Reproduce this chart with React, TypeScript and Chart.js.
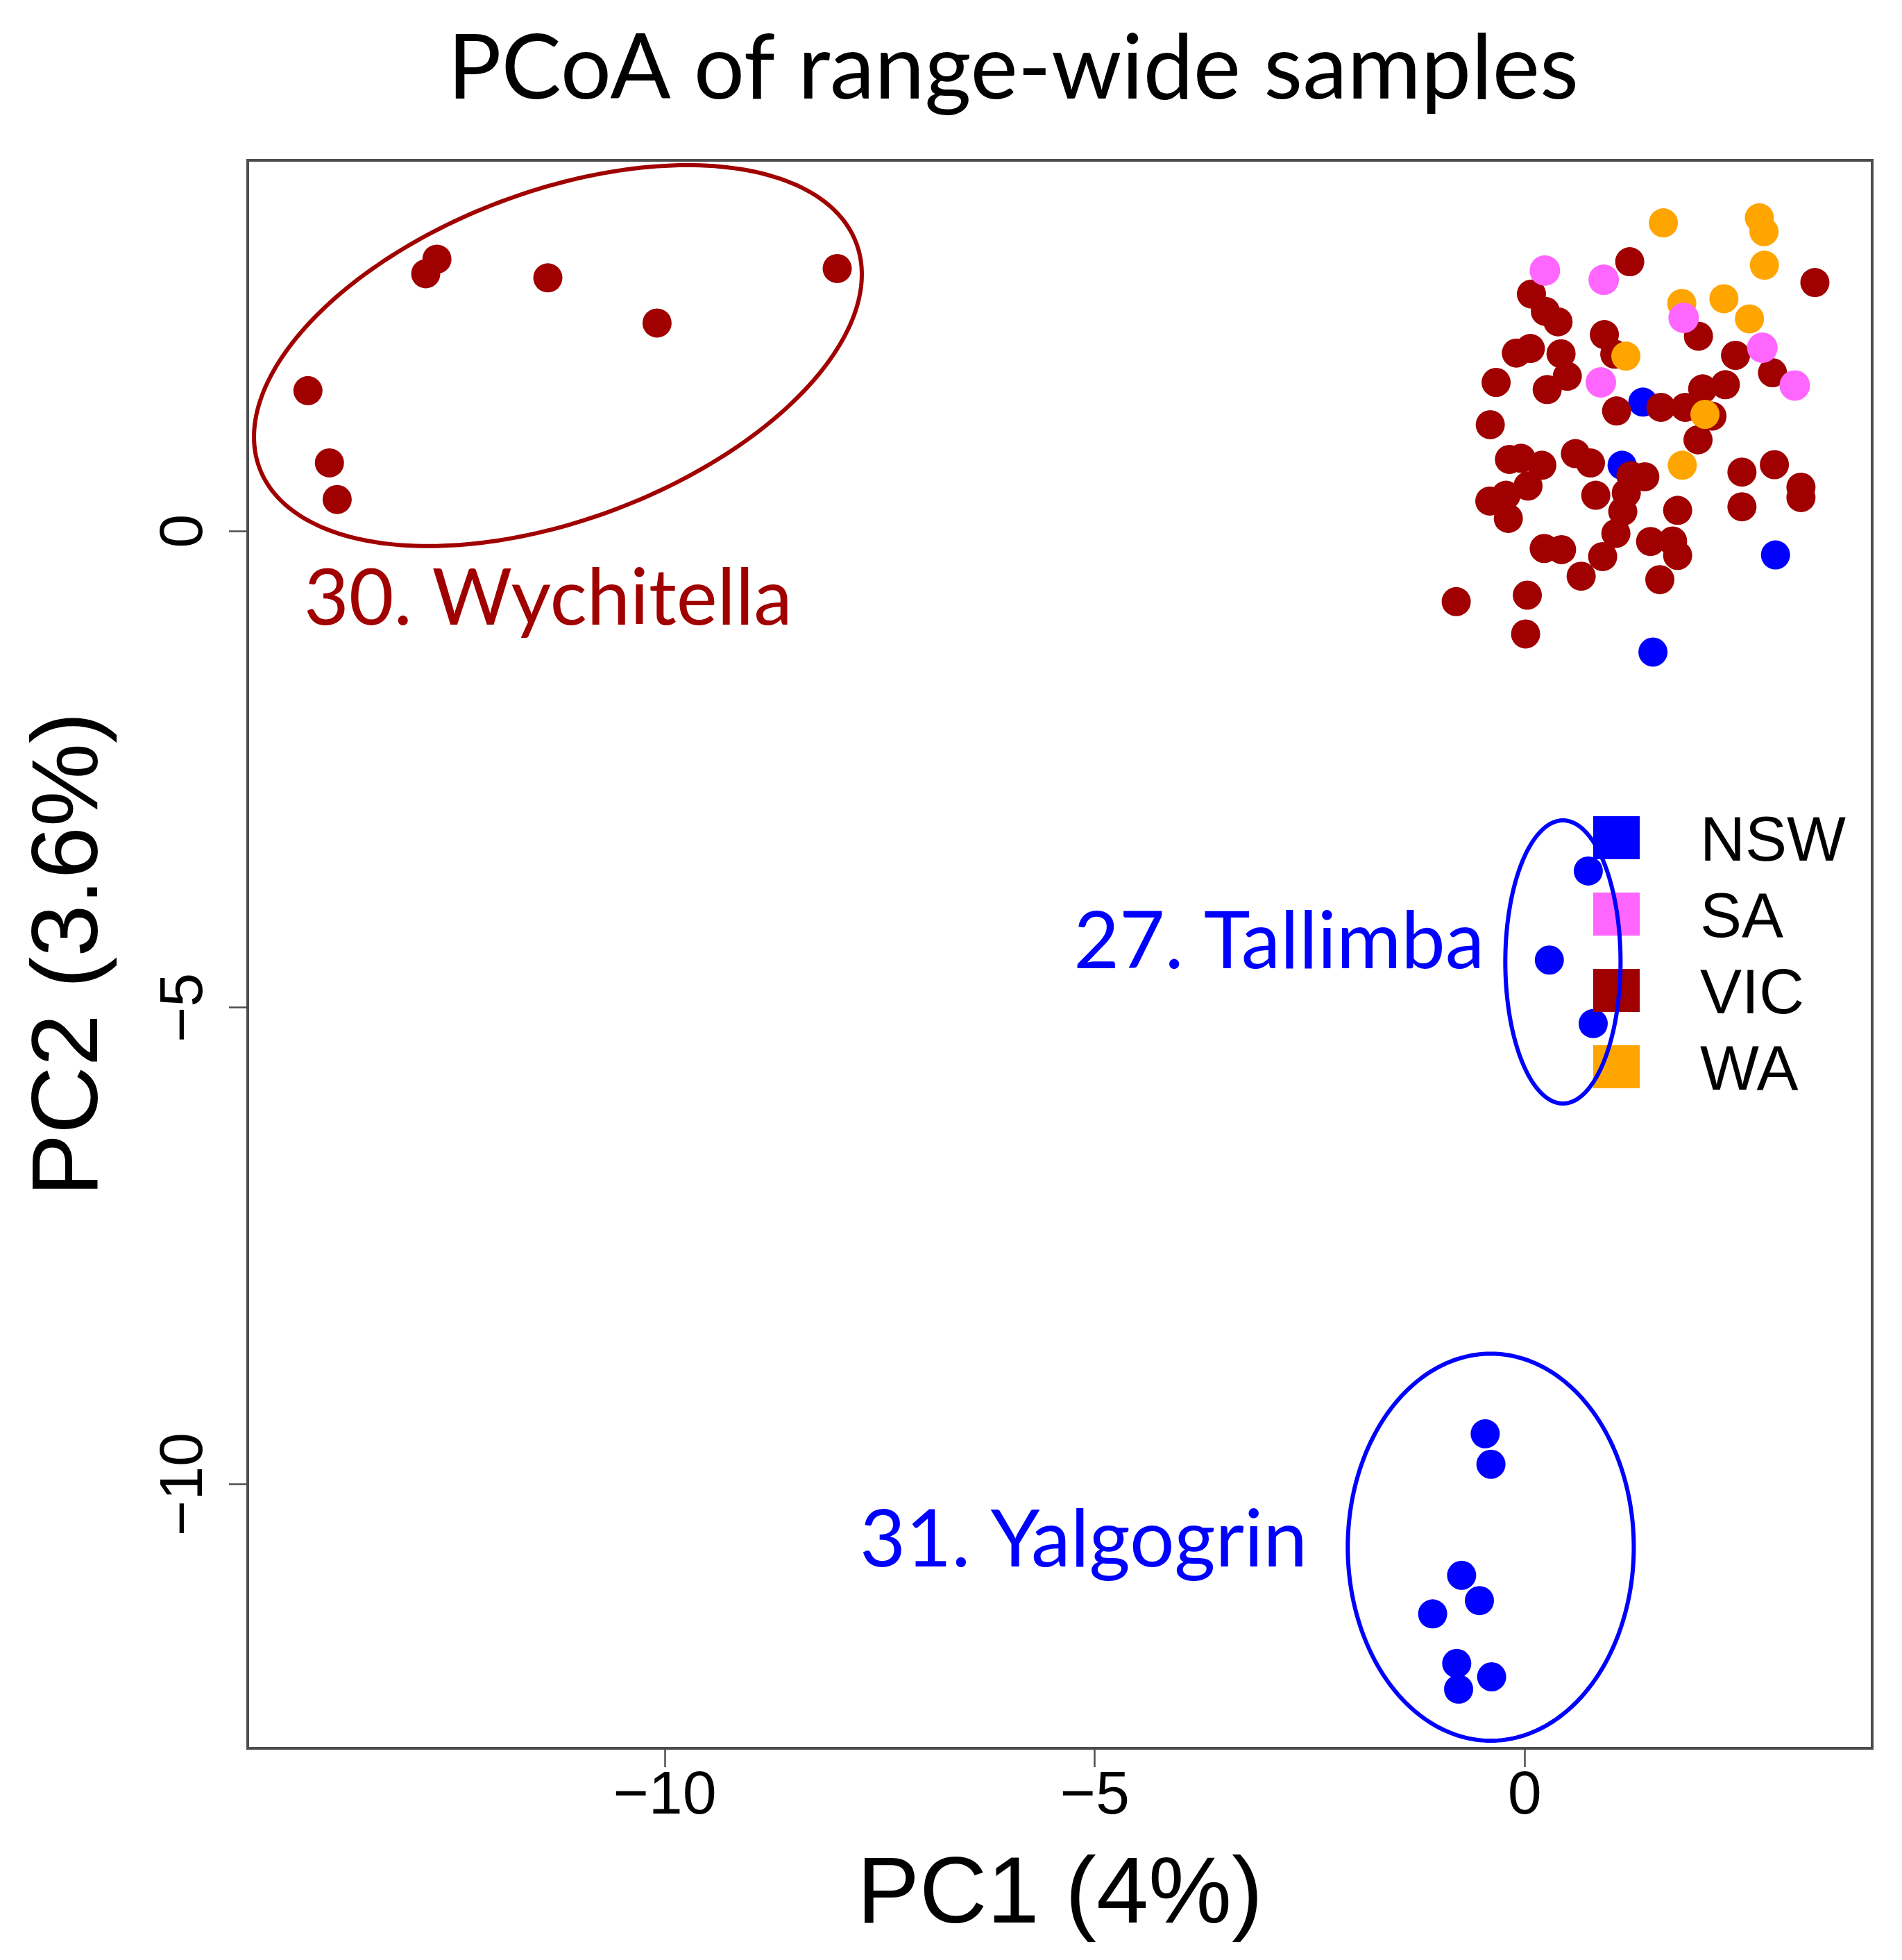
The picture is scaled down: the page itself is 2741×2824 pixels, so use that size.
import React, { useEffect, useRef } from "react";
import { Chart, registerables } from "chart.js";

Chart.register(...registerables);

const W = 2741;
const H = 2824;

// ---------- data ----------
const seriesNames = ["NSW", "SA", "VIC", "WA"];

const NSW_X = [1.374, 1.132, 2.916, 1.491, 0.739, 0.286, 0.796, -0.46, -0.393, -0.734, -0.527, -1.071, -0.791, -0.769, -0.385];
const NSW_Y = [1.354, 0.691, -0.25, -1.269, -3.566, -4.5, -5.167, -9.47, -9.79, -10.955, -11.22, -11.36, -11.88, -12.15, -12.02];

const SA_X = [0.234, 0.918, 0.885, 1.848, 2.763, 3.14];
const SA_Y = [2.734, 2.637, 1.56, 2.237, 1.924, 1.528];

const VIC_X = [
  -14.15, -13.9, -13.81, -12.78, -12.65, -11.36, -10.09, -7.995,
  1.221, 0.078, 0.24, 0.387, 0.926, 1.047, -0.097, 0.065, 0.422, 0.495, 0.261, -0.333, 1.068, 1.584, -0.401,
  3.374, 2.02, 2.451, 2.881, 1.867, 2.069, 2.333, 2.177, 2.015, 2.526, 2.903, 3.212, 3.212, 2.526, 1.778,
  1.463, 1.719, 1.778, 1.571, -0.178, -0.043, 0.199, 0.038, -0.406, -0.218, -0.191, 0.589, 0.764, 1.235,
  1.396, 0.826, 1.14, 1.06, 0.906, 0.656, 0.226, 0.428, -0.797, 0.03, 0.01, 1.181,
];
const VIC_Y = [
  1.474, 0.716, 0.332, 2.7, 2.853, 2.657, 2.183, 2.755,
  2.826, 2.487, 2.305, 2.196, 2.062, 1.856, 1.868, 1.916, 1.861, 1.625, 1.485, 1.56, 1.261, 1.298, 1.116,
  2.608, 2.045, 1.844, 1.662, 1.298, 1.492, 1.536, 1.206, 0.958, 0.619, 0.697, 0.461, 0.352, 0.255, 0.218,
  -0.109, -0.104, -0.255, -0.509, 0.752, 0.764, 0.691, 0.473, 0.315, 0.376, 0.133, 0.813, 0.715, 0.582,
  0.57, 0.376, 0.206, -0.024, -0.267, -0.473, -0.182, -0.194, -0.74, -0.672, -1.079, 0.4,
];

const WA_X = [1.612, 2.728, 2.782, 2.787, 1.826, 2.316, 2.613, 1.176, 2.096, 1.832];
const WA_Y = [3.234, 3.287, 3.142, 2.79, 2.389, 2.438, 2.227, 1.836, 1.225, 0.691];

const X_TICKS = [-10, -5, 0];
const Y_TICKS = [-10, -5, 0];
const X_RANGE = [-14.85, 4.04];
const Y_RANGE = [-12.77, 3.89];

const TITLE = "PCoA of range-wide samples";
const X_TITLE = "PC1 (4%)";
const Y_TITLE = "PC2 (3.6%)";

// group ellipses (data units: centre, two conjugate semi-axis vectors)
const ELLIPSE_CENTERS = [[-11.243, 1.841], [0.444, -4.52], [-0.395, -10.66]];
const ELLIPSE_U = [[3.469, 1.182], [0.67, 0], [1.663, 0]];
const ELLIPSE_V = [[0.675, -1.611], [0, 1.485], [0, 2.03]];
const GROUP_LABELS = ["30. Wychitella", "27. Tallimba", "31. Yalgogrin"];
const GROUP_LABEL_POS = [[-14.197, -0.983], [-5.246, -4.585], [-7.732, -10.859]];

// ---------- styles ----------
const COLORS: Record<string, string> = {
  NSW: "#0000FF",
  SA: "#FF66FF",
  VIC: "#A00000",
  WA: "#FFA500",
};
const GROUP_COLORS = ["#A00000", "#0000FF", "#0000FF"];
const GROUP_LABEL_WIDTHS = [704, 592, 645];
const ARIAL = "'Liberation Sans', Arial, sans-serif";
const CALIBRI = "Lato, 'Open Sans', sans-serif";

const fmt = (v: number) => (v < 0 ? "\u2212" + Math.abs(v) : String(v));

function fitSize(ctx: CanvasRenderingContext2D, text: string, family: string, target: number) {
  ctx.font = `100px ${family}`;
  const w = ctx.measureText(text).width;
  return (100 * target) / w;
}

const overlayPlugin = {
  id: "overlay",
  afterDraw(chart: any) {
    const ctx: CanvasRenderingContext2D = chart.ctx;
    const a = chart.chartArea;
    const xs = chart.scales.x;
    const ys = chart.scales.y;
    ctx.save();

    // legend
    const legendY = [1207, 1317, 1427, 1537];
    seriesNames.forEach((name, i) => {
      ctx.fillStyle = COLORS[name];
      ctx.fillRect(2296, legendY[i] - 31, 67, 62);
      ctx.fillStyle = "#000";
      ctx.font = `90px ${ARIAL}`;
      ctx.textAlign = "left";
      ctx.textBaseline = "alphabetic";
      ctx.fillText(name, 2450, legendY[i] + 33);
    });

    // ellipses
    ELLIPSE_CENTERS.forEach((c, k) => {
      const u = ELLIPSE_U[k];
      const v = ELLIPSE_V[k];
      ctx.beginPath();
      const n = 240;
      for (let i = 0; i <= n; i++) {
        const t = (i / n) * Math.PI * 2;
        const dx = c[0] + u[0] * Math.cos(t) + v[0] * Math.sin(t);
        const dy = c[1] + u[1] * Math.cos(t) + v[1] * Math.sin(t);
        const px = xs.getPixelForValue(dx);
        const py = ys.getPixelForValue(dy);
        if (i === 0) ctx.moveTo(px, py);
        else ctx.lineTo(px, py);
      }
      ctx.closePath();
      ctx.strokeStyle = GROUP_COLORS[k];
      ctx.lineWidth = 6;
      ctx.stroke();
    });

    // group labels
    GROUP_LABELS.forEach((label, k) => {
      const size = fitSize(ctx, label, CALIBRI, GROUP_LABEL_WIDTHS[k]);
      ctx.font = `${size}px ${CALIBRI}`;
      ctx.fillStyle = GROUP_COLORS[k];
      ctx.textAlign = "left";
      ctx.textBaseline = "alphabetic";
      ctx.fillText(label, xs.getPixelForValue(GROUP_LABEL_POS[k][0]), ys.getPixelForValue(GROUP_LABEL_POS[k][1]));
    });

    // frame
    ctx.strokeStyle = "#4d4d4d";
    ctx.lineWidth = 4;
    ctx.strokeRect(a.left, a.top, a.right - a.left, a.bottom - a.top);

    // y tick labels (rotated, as in R)
    ctx.fillStyle = "#000";
    ctx.font = `88px ${ARIAL}`;
    ctx.textAlign = "center";
    ctx.textBaseline = "alphabetic";
    ys.ticks.forEach((t: any) => {
      const py = ys.getPixelForValue(t.value);
      ctx.save();
      ctx.translate(a.left - 66, py);
      ctx.rotate(-Math.PI / 2);
      ctx.fillText(fmt(t.value), 0, 0);
      ctx.restore();
    });

    // axis titles
    ctx.font = `135px ${ARIAL}`;
    ctx.textAlign = "center";
    ctx.fillText(X_TITLE, (a.left + a.right) / 2, 2770);
    ctx.save();
    ctx.translate(140, (a.top + a.bottom) / 2);
    ctx.rotate(-Math.PI / 2);
    ctx.fillText(Y_TITLE, 0, 0);
    ctx.restore();

    // main title
    const ts = fitSize(ctx, TITLE, CALIBRI, 1630);
    ctx.font = `${ts}px ${CALIBRI}`;
    ctx.textAlign = "left";
    ctx.fillText(TITLE, 645, 142);

    ctx.restore();
  },
};

function toPoints(xs: number[], ys: number[]) {
  return xs.map((x, i) => ({ x, y: ys[i] }));
}

export default function App() {
  const ref = useRef<HTMLCanvasElement | null>(null);

  useEffect(() => {
    document.body.style.margin = "0";
    const canvas = ref.current;
    if (!canvas) return;
    const dataMap: Record<string, { x: number; y: number }[]> = {
      NSW: toPoints(NSW_X, NSW_Y),
      SA: toPoints(SA_X, SA_Y),
      VIC: toPoints(VIC_X, VIC_Y),
      WA: toPoints(WA_X, WA_Y),
    };
    const drawOrder: Record<string, number> = { SA: 1, WA: 2, VIC: 3, NSW: 4 };

    const chart = new Chart(canvas, {
      type: "scatter",
      data: {
        datasets: seriesNames.map((name) => ({
          label: name,
          data: dataMap[name],
          backgroundColor: COLORS[name],
          borderColor: COLORS[name],
          pointRadius: name === "SA" ? 22 : 21,
          pointHoverRadius: name === "SA" ? 22 : 21,
          pointBorderWidth: 0,
          order: drawOrder[name],
        })),
      },
      options: {
        responsive: false,
        animation: false,
        devicePixelRatio: 1,
        events: [],
        layout: { padding: { top: 231, right: 43, left: 0, bottom: 0 } },
        plugins: {
          legend: { display: false },
          title: { display: false },
          tooltip: { enabled: false },
        },
        scales: {
          x: {
            type: "linear",
            position: "bottom",
            min: X_RANGE[0],
            max: X_RANGE[1],
            afterBuildTicks: (s: any) => {
              s.ticks = X_TICKS.map((v) => ({ value: v }));
            },
            afterFit: (s: any) => {
              s.height = 305;
            },
            ticks: {
              color: "#000",
              font: { family: ARIAL, size: 88, lineHeight: 1 },
              padding: -1,
              maxRotation: 0,
              minRotation: 0,
              callback: (v: any) => fmt(Number(v)),
            },
            grid: {
              drawOnChartArea: false,
              drawTicks: true,
              tickLength: 27,
              tickColor: "#4d4d4d",
              tickWidth: 2.5,
            },
            border: { display: false },
          },
          y: {
            type: "linear",
            position: "left",
            min: Y_RANGE[0],
            max: Y_RANGE[1],
            afterBuildTicks: (s: any) => {
              s.ticks = Y_TICKS.map((v) => ({ value: v }));
            },
            afterFit: (s: any) => {
              s.width = 357;
            },
            ticks: { display: false },
            grid: {
              drawOnChartArea: false,
              drawTicks: true,
              tickLength: 27,
              tickColor: "#4d4d4d",
              tickWidth: 2.5,
            },
            border: { display: false },
          },
        },
      },
      plugins: [overlayPlugin],
    } as any);

    return () => chart.destroy();
  }, []);

  return (
    <div style={{ position: "absolute", left: 0, top: 0, width: W, height: H, background: "#fff" }}>
      <canvas ref={ref} width={W} height={H} style={{ display: "block", width: W, height: H }} />
    </div>
  );
}
